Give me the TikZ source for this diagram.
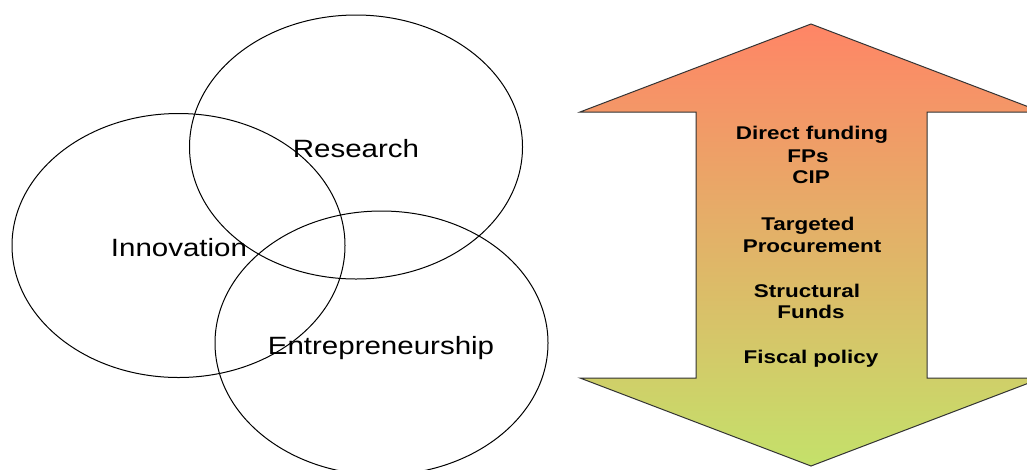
\documentclass[tikz,border=0pt]{standalone}
\usepackage{fontspec}
\usepackage{tikz}
\usepackage{xcolor}
\newfontfamily\circlefont[FakeStretch=1.18]{Liberation Sans}
\newfontfamily\fundfont[FakeStretch=1.22]{Liberation Sans}
\definecolor{arrowtop}{RGB}{255,133,102}
\definecolor{arrowbottom}{RGB}{196,225,106}

\begin{document}
\begin{tikzpicture}[x=0.75pt, y=-0.75pt,
	area/.style={font=\circlefont\fontsize{18.75}{22}\selectfont, anchor=base, inner sep=0pt},
	fund/.style={font=\fundfont\bfseries\fontsize{13.8}{16}\selectfont, anchor=base, inner sep=0pt}]
	\useasboundingbox (0,0) rectangle (1027,469);
	\clip (0,0) rectangle (1027,469);
	\draw[line width=0.75pt, draw=black!80, top color=arrowtop, bottom color=arrowbottom]
		(811,24) -- (1042,112) -- (927,112) -- (927,378) -- (1042,378) -- (811,466)
		-- (580,378) -- (696,378) -- (696,112) -- (580,112) -- cycle;
	\draw[line width=0.75pt] (356,147) ellipse [x radius=166.5, y radius=132];
	\draw[line width=0.75pt] (178.5,245.5) ellipse [x radius=166.5, y radius=132];
	\draw[line width=0.75pt] (381.5,343) ellipse [x radius=166.5, y radius=132];
	\node[area] (research) at (356,157) {Research};
	\node[area] (innovation) at (179,256) {Innovation};
	\node[area] (entrepreneurship) at (381,354) {Entrepreneurship};
	\foreach \x/\y/\txt [count=\i] in {812/139/Direct funding, 808/162/FPs, 811/183/CIP,
		808/230/Targeted, 812/252/Procurement, 807/297/Structural, 811/318/Funds,
		811/363/Fiscal policy}
	{
		\node[fund] (fund\i) at (\x,\y) {\txt};
	}
\end{tikzpicture}
\end{document}
